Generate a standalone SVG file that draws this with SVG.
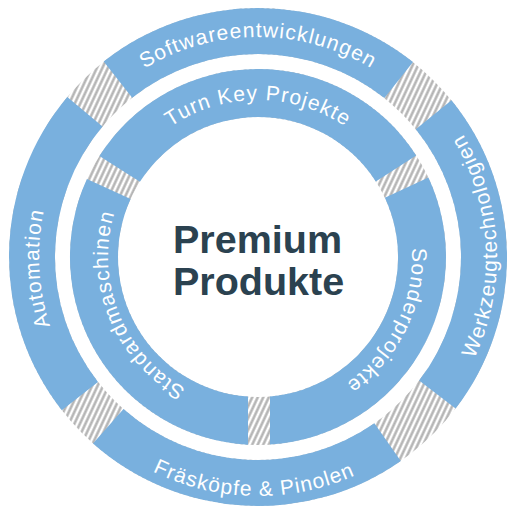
<svg xmlns="http://www.w3.org/2000/svg" width="507" height="511" viewBox="0 0 507 511">
<defs>
<pattern id="hatch" width="5" height="10" patternUnits="userSpaceOnUse" patternTransform="rotate(25)">
<rect width="5" height="10" fill="#ffffff"/>
<line x1="1.5" y1="0" x2="1.5" y2="10" stroke="#b0b0b0" stroke-width="2.4"/>
</pattern>
<path id="tp-soft" d="M38.84,237.82 A220,220 0 0 1 477.16,237.82"/>
<path id="tp-auto" d="M250.36,475.87 A219,219 0 0 1 227.52,40.13"/>
<path id="tp-werk" d="M291.26,493.67 A239,239 0 0 0 266.34,18.15"/>
<path id="tp-fras" d="M19.58,273.67 A239,239 0 0 0 495.69,281.98"/>
<path id="tp-turn" d="M101.6,243.32 A157,157 0 0 1 414.4,243.32"/>
<path id="tp-sond" d="M337.32,125 A154,154 0 0 1 202.81,400.77"/>
<path id="tp-stan" d="M301.86,400.45 A150,150 0 0 1 189.9,123.35"/>
</defs>
<style>
.seg{fill:#79b0de}
.hatch{fill:url(#hatch);fill-rule:evenodd}
.lbl{font-family:"Liberation Sans",Arial,sans-serif;font-size:21px;fill:#ffffff;letter-spacing:1.1px}
.center{font-family:"Liberation Sans",Arial,sans-serif;font-size:39.5px;font-weight:bold;fill:#2b4250}
</style>
<rect width="507" height="511" fill="#ffffff"/>
<g id="rings-bg">
<path class="hatch" d="M258,8 A249,249 0 1 1 257.99,8 Z M258,54 A203,203 0 1 0 258.01,54 Z"/>
<path class="hatch" d="M258,69 A188,188 0 1 1 257.99,69 Z M258,117 A140,140 0 1 0 258.01,117 Z"/>
</g>
<g id="softwareentwicklungen">
<path class="seg" d="M103.7,61.6 A249,249 0 0 1 413,62.1 L384.4,98.1 A203,203 0 0 0 132.2,97.7 Z"/>
<text class="lbl" text-anchor="middle"><textPath href="#tp-soft" startOffset="50%">Softwareentwicklungen</textPath></text>
</g>
<g id="werkzeugtechnologien">
<path class="seg" d="M451.5,100.3 A249,249 0 0 1 455.6,408.6 L419.1,380.6 A203,203 0 0 0 415.8,129.3 Z"/>
<text class="lbl" text-anchor="middle"><textPath href="#tp-werk" startOffset="50%">Werkzeugtechnologien</textPath></text>
</g>
<g id="fraeskoepfe">
<path class="seg" d="M400.8,461 A249,249 0 0 1 93,443.5 L123.5,409 A203,203 0 0 0 374.4,423.3 Z"/>
<text class="lbl" text-anchor="middle"><textPath href="#tp-fras" startOffset="50%">Fräsköpfe &amp; Pinolen</textPath></text>
</g>
<g id="automation">
<path class="seg" d="M61.8,410.3 A249,249 0 0 1 67.3,96.9 L102.5,126.5 A203,203 0 0 0 98,382 Z"/>
<text class="lbl" text-anchor="middle"><textPath href="#tp-auto" startOffset="50%">Automation</textPath></text>
</g>
<g id="turn-key-projekte">
<path class="seg" d="M99.4,156 A188,188 0 0 1 416.2,155.4 L375.8,181.4 A140,140 0 0 0 139.9,181.8 Z"/>
<text class="lbl" text-anchor="middle"><textPath href="#tp-turn" startOffset="50%">Turn Key Projekte</textPath></text>
</g>
<g id="sonderprojekte">
<path class="seg" d="M428.4,177.6 A188,188 0 0 1 270,444.6 L270,396.5 A140,140 0 0 0 384.9,197.8 Z"/>
<text class="lbl" text-anchor="middle"><textPath href="#tp-sond" startOffset="50%">Sonderprojekte</textPath></text>
</g>
<g id="standardmaschinen">
<path class="seg" d="M248,444.7 A188,188 0 0 1 86.9,179 L130.6,198.9 A140,140 0 0 0 248,396.6 Z"/>
<text class="lbl" text-anchor="middle"><textPath href="#tp-stan" startOffset="50%">Standardmaschinen</textPath></text>
</g>
<g id="premium-produkte">
<text class="center" x="173" y="253">Premium</text>
<text class="center" x="173" y="295">Produkte</text>
</g>
</svg>
